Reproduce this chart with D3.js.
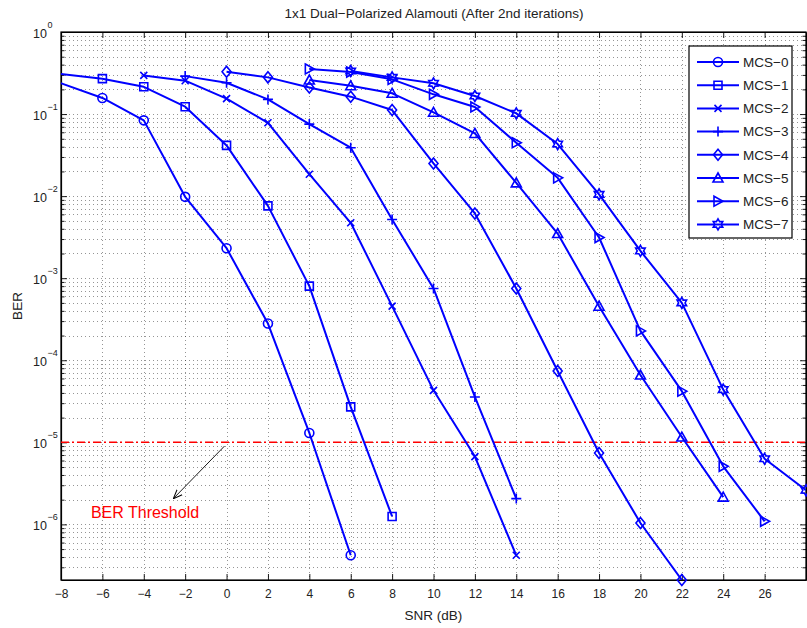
<!DOCTYPE html>
<html>
<head>
<meta charset="utf-8">
<script src="https://cdn.jsdelivr.net/npm/d3@7"></script>
<style>
  html, body { margin: 0; padding: 0; background: #fff; }
  svg { display: block; font-family: "Liberation Sans", Arial, Helvetica, sans-serif; }
</style>
</head>
<body>
<svg id="chart" width="807" height="628"></svg>
<script>
// ---------------- data ----------------
const seriesNames = ["MCS−0", "MCS−1", "MCS−2", "MCS−3", "MCS−4", "MCS−5", "MCS−6", "MCS−7"];
const markerTypes = ["circle", "square", "x", "plus", "diamond", "triangleUp", "triangleRight", "hexagram"];

const mcs0Snr = [-10, -6, -4, -2, 0, 2, 4, 6];
const mcs0Ber = [0.358, 0.157, 0.0838, 0.0098, 0.00232, 2.8e-4, 1.3e-5, 4.2e-7];

const mcs1Snr = [-10, -6, -4, -2, 0, 2, 4, 6, 8];
const mcs1Ber = [0.35, 0.27, 0.215, 0.123, 0.0415, 0.0076, 8.0e-4, 2.7e-5, 1.25e-6];

const mcs2Snr = [-4, -2, 0, 2, 4, 6, 8, 10, 12, 14];
const mcs2Ber = [0.296, 0.255, 0.154, 0.0783, 0.0185, 0.00473, 4.56e-4, 4.3e-5, 6.7e-6, 4.2e-7];

const mcs3Snr = [-2, 0, 2, 4, 6, 8, 10, 12, 14];
const mcs3Ber = [0.29, 0.241, 0.151, 0.0755, 0.0389, 0.0052, 7.5e-4, 3.57e-5, 2.06e-6];

const mcs4Snr = [0, 2, 4, 6, 8, 10, 12, 14, 16, 18, 20, 22];
const mcs4Ber = [0.328, 0.28, 0.211, 0.163, 0.112, 0.025, 0.00615, 7.5e-4, 7.4e-5, 7.4e-6, 1.04e-6, 2.1e-7];

const mcs5Snr = [4, 6, 8, 10, 12, 14, 16, 18, 20, 22, 24];
const mcs5Ber = [0.26, 0.221, 0.179, 0.105, 0.058, 0.0145, 0.0035, 4.56e-4, 6.6e-5, 1.16e-5, 2.15e-6];

const mcs6Snr = [4, 6, 8, 10, 12, 14, 16, 18, 20, 22, 24, 26];
const mcs6Ber = [0.354, 0.325, 0.265, 0.174, 0.122, 0.0447, 0.0167, 0.00313, 2.28e-4, 4.2e-5, 5.1e-6, 1.09e-6];

const mcs7Snr = [6, 8, 10, 12, 14, 16, 18, 20, 22, 24, 26, 28];
const mcs7Ber = [0.335, 0.28, 0.237, 0.166, 0.102, 0.0431, 0.0105, 0.00215, 5.0e-4, 4.39e-5, 6.3e-6, 2.6e-6];

const xTicks = [-8, -6, -4, -2, 0, 2, 4, 6, 8, 10, 12, 14, 16, 18, 20, 22, 24, 26];
const yTickExponents = [0, -1, -2, -3, -4, -5, -6];
const xDomain = [-8, 28];
const yDomain = [2.1e-7, 1];

const thresholdBer = 1e-5;
const thresholdLabel = "BER Threshold";
const arrowStart = [-0.1, 9.0e-6];
const arrowEnd = [-2.57, 2.06e-6];
const labelPos = [-3.94, 1.18e-6];

const titleText = "1x1 Dual−Polarized Alamouti (After 2nd iterations)";
const xLabelText = "SNR (dB)";
const yLabelText = "BER";

// ---------------- layout ----------------
const svg = d3.select("#chart");
const pL = 61, pR = 806, pT = 32, pB = 580;
const blue = "#0000ff";

const x = d3.scaleLinear().domain(xDomain).range([pL, pR]);
const y = d3.scaleLog().domain(yDomain).range([pB, pT]);

const snrs = [mcs0Snr, mcs1Snr, mcs2Snr, mcs3Snr, mcs4Snr, mcs5Snr, mcs6Snr, mcs7Snr];
const bers = [mcs0Ber, mcs1Ber, mcs2Ber, mcs3Ber, mcs4Ber, mcs5Ber, mcs6Ber, mcs7Ber];
const series = seriesNames.map((name, i) => ({
  name, marker: markerTypes[i],
  points: snrs[i].map((s, j) => ({ snr: s, ber: bers[i][j] }))
}));

const defs = svg.append("defs");
defs.append("clipPath").attr("id", "plotClip")
  .append("rect").attr("x", pL).attr("y", pT).attr("width", pR - pL).attr("height", pB - pT);

// grid
const grid = svg.append("g").attr("class", "grid")
  .attr("stroke", "#000").attr("stroke-opacity", 0.6).attr("stroke-width", 0.7)
  .attr("stroke-dasharray", "1,3");
const minorVals = [];
for (let e = -7; e <= 0; e++) {
  for (let k = 1; k <= 9; k++) {
    const v = k * Math.pow(10, e);
    if (v >= yDomain[0] && v <= yDomain[1]) minorVals.push(v);
  }
}
const isMajor = d => Math.abs(Math.log10(d) - Math.round(Math.log10(d))) < 1e-9;
grid.selectAll("line.h").data(minorVals).join("line").attr("class", "h")
  .attr("x1", pL).attr("x2", pR)
  .attr("y1", d => Math.round(y(d)) + 0.5).attr("y2", d => Math.round(y(d)) + 0.5);
grid.selectAll("line.v").data(xTicks).join("line").attr("class", "v")
  .attr("y1", pT).attr("y2", pB)
  .attr("x1", d => Math.round(x(d)) + 0.5).attr("x2", d => Math.round(x(d)) + 0.5);

// axes via d3 axis (ticks inward)
const xAxisB = d3.axisBottom(x).tickValues(xTicks).tickSizeInner(-6).tickSizeOuter(0)
  .tickFormat(d => (d < 0 ? "−" + Math.abs(d) : String(d)));
const gxb = svg.append("g").attr("transform", `translate(0,${pB})`).call(xAxisB);
gxb.selectAll("text").attr("font-size", 12).attr("fill", "#222").attr("y", 9).attr("dy", "0.71em");
const xAxisT = d3.axisTop(x).tickValues(xTicks).tickSizeInner(-6).tickSizeOuter(0).tickFormat("");
svg.append("g").attr("transform", `translate(0,${pT})`).call(xAxisT);

const yAxisL = d3.axisLeft(y).tickValues(minorVals).tickSizeOuter(0).tickFormat("");
const gyl = svg.append("g").attr("transform", `translate(${pL},0)`).call(yAxisL);
gyl.selectAll(".tick line").attr("x2", d => isMajor(d) ? 6 : 3.5);
const yAxisR = d3.axisRight(y).tickValues(minorVals).tickSizeOuter(0).tickFormat("");
const gyr = svg.append("g").attr("transform", `translate(${pR},0)`).call(yAxisR);
gyr.selectAll(".tick line").attr("x2", d => isMajor(d) ? -6 : -3.5);

svg.selectAll(".domain").attr("stroke", "#000").attr("stroke-width", 1.2);
svg.selectAll(".tick line").attr("stroke", "#000").attr("stroke-width", 0.9);

// frame
svg.append("rect").attr("x", pL).attr("y", pT).attr("width", pR - pL).attr("height", pB - pT)
  .attr("fill", "none").attr("stroke", "#000").attr("stroke-width", 1.2);

// y tick labels 10^e
const yl = svg.append("g").attr("fill", "#222");
yTickExponents.forEach(e => {
  const yy = y(Math.pow(10, e));
  yl.append("text").attr("x", 47).attr("y", yy + 5.5).attr("text-anchor", "end")
    .attr("font-size", 12.5).text("10");
  yl.append("text").attr("x", 47.5).attr("y", yy - 4).attr("text-anchor", "start")
    .attr("font-size", 9).text(e < 0 ? "−" + Math.abs(e) : String(e));
});

// threshold line
svg.append("line").attr("x1", pL).attr("x2", pR)
  .attr("y1", y(thresholdBer)).attr("y2", y(thresholdBer))
  .attr("stroke", "#ff0000").attr("stroke-width", 1.4).attr("stroke-dasharray", "8,3,2,3");

// series lines
const lineGen = d3.line().x(d => x(d.snr)).y(d => y(d.ber));
const plot = svg.append("g").attr("clip-path", "url(#plotClip)");
plot.selectAll("path.series").data(series).join("path")
  .attr("class", "series").attr("d", d => lineGen(d.points))
  .attr("fill", "none").attr("stroke", blue).attr("stroke-width", 2).attr("stroke-linejoin", "round");

// markers
function markerPath(type) {
  switch (type) {
    case "circle": { const r = 4.5; return `M${-r},0A${r},${r} 0 1,0 ${r},0A${r},${r} 0 1,0 ${-r},0Z`; }
    case "square": { const s = 4; return `M${-s},${-s}H${s}V${s}H${-s}Z`; }
    case "x": { const s = 3.5; return `M${-s},${-s}L${s},${s}M${-s},${s}L${s},${-s}`; }
    case "plus": { const s = 5; return `M${-s},0H${s}M0,${-s}V${s}`; }
    case "diamond": return "M0,-5.5L4.5,0L0,5.5L-4.5,0Z";
    case "triangleUp": return "M0,-5L5,4L-5,4Z";
    case "triangleRight": return "M-4,-5L5,0L-4,5Z";
    case "hexagram": {
      const R = 5.5, r = 3.2; let p = "";
      for (let i = 0; i < 12; i++) {
        const a = -Math.PI / 2 + i * Math.PI / 6;
        const rr = i % 2 === 0 ? R : r;
        p += (i === 0 ? "M" : "L") + (rr * Math.cos(a)).toFixed(2) + "," + (rr * Math.sin(a)).toFixed(2);
      }
      return p + "Z";
    }
  }
}
const mk = svg.append("g");
series.forEach(s => {
  const pts = s.points.filter(p => p.snr >= xDomain[0] && p.snr <= xDomain[1] && p.ber >= yDomain[0] * 0.99);
  mk.append("g").selectAll("path").data(pts).join("path")
    .attr("transform", d => `translate(${x(d.snr)},${y(d.ber)})`)
    .attr("d", markerPath(s.marker))
    .attr("fill", "none").attr("stroke", blue).attr("stroke-width", 1.6);
});

// annotation
defs.append("marker").attr("id", "arrowHead")
  .attr("viewBox", "0 0 10 10").attr("refX", 10).attr("refY", 5)
  .attr("markerWidth", 9).attr("markerHeight", 9).attr("orient", "auto").attr("markerUnits", "userSpaceOnUse")
  .append("path").attr("d", "M0,1L10,5L0,9").attr("fill", "none").attr("stroke", "#000").attr("stroke-width", 1.2);
svg.append("line")
  .attr("x1", x(arrowStart[0])).attr("y1", y(arrowStart[1]))
  .attr("x2", x(arrowEnd[0])).attr("y2", y(arrowEnd[1]))
  .attr("stroke", "#000").attr("stroke-width", 0.9).attr("marker-end", "url(#arrowHead)");
svg.append("text").attr("x", x(labelPos[0])).attr("y", y(labelPos[1]))
  .attr("text-anchor", "middle").attr("font-size", 16).attr("fill", "#ff0000").text(thresholdLabel);

// legend
const lg = svg.append("g");
const lgX = 689, lgY = 46, lgW = 103, lgH = 192, rowH = 23.2;
lg.append("rect").attr("x", lgX).attr("y", lgY).attr("width", lgW).attr("height", lgH)
  .attr("fill", "#fff").attr("stroke", "#000").attr("stroke-width", 1.2);
series.forEach((s, i) => {
  const yy = lgY + 16 + i * rowH;
  lg.append("line").attr("x1", 697).attr("x2", 739).attr("y1", yy).attr("y2", yy)
    .attr("stroke", blue).attr("stroke-width", 2);
  lg.append("path").attr("transform", `translate(718,${yy})`).attr("d", markerPath(s.marker))
    .attr("fill", "none").attr("stroke", blue).attr("stroke-width", 1.6);
  lg.append("text").attr("x", 743).attr("y", yy + 4.8).attr("font-size", 13.5).attr("fill", "#222").text(s.name);
});

// titles
svg.append("text").attr("x", 434).attr("y", 18).attr("text-anchor", "middle")
  .attr("font-size", 13.5).attr("fill", "#222").text(titleText);
svg.append("text").attr("x", (pL + pR) / 2).attr("y", 620).attr("text-anchor", "middle")
  .attr("font-size", 13.5).attr("fill", "#222").text(xLabelText);
svg.append("text").attr("transform", `translate(22,${(pT + pB) / 2}) rotate(-90)`)
  .attr("text-anchor", "middle").attr("font-size", 13.5).attr("fill", "#222").text(yLabelText);
</script>
</body>
</html>
